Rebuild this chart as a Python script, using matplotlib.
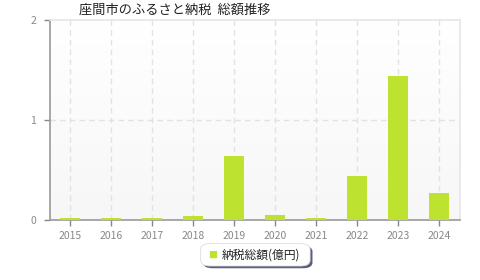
import numpy as np
import matplotlib.pyplot as plt
from matplotlib.patches import FancyBboxPatch

plt.rcParams['font.family'] = ['Noto Sans CJK JP', 'DejaVu Sans']

years = ['2015', '2016', '2017', '2018', '2019', '2020', '2021', '2022', '2023', '2024']
values = [0.02, 0.02, 0.02, 0.04, 0.64, 0.05, 0.02, 0.44, 1.44, 0.27]
title = '座間市のふるさと納税  総額推移'
series_name = '納税総額(億円)'
bar_color = '#bde22f'

fig = plt.figure(figsize=(4.8, 2.8), dpi=100)
ax = fig.add_axes([0.104, 0.214, 0.854, 0.715])

x = np.arange(len(years))
ax.set_xlim(-0.5, len(years) - 0.5)
ax.set_ylim(0, 2)

# soft gradient background
grad = np.linspace(0, 1, 100).reshape(-1, 1)
ax.imshow(grad, extent=[-0.5, len(years) - 0.5, 0, 2], aspect='auto',
          cmap=plt.matplotlib.colors.LinearSegmentedColormap.from_list('bg', ['#ffffff', '#f7f7f7']),
          origin='upper', zorder=0)

ax.bar(x, values, width=0.49, color=bar_color, zorder=3)

ax.set_xticks(x)
ax.set_xticklabels(years)
ax.set_yticks([0, 1, 2])
ax.set_yticklabels(['0', '1', '2'])
ax.tick_params(colors='#888888', labelsize=7.5, length=4, width=1)
ax.tick_params(axis='y', pad=6)
ax.tick_params(axis='x', pad=4)

for xi in x:
    ax.axvline(xi, color='#e2e2e2', linestyle=(0, (4, 3)), linewidth=1, zorder=1)
ax.axhline(1, color='#e2e2e2', linestyle=(0, (4, 3)), linewidth=1, zorder=1)

ax.spines['left'].set_color('#999999')
ax.spines['bottom'].set_color('#999999')
ax.spines['top'].set_color('#e6e6e6')
ax.spines['right'].set_color('#e6e6e6')
for s in ax.spines.values():
    s.set_linewidth(1.2)

fig.text(0.365, 0.962, title, ha='center', va='center', fontsize=9.5, color='#222222')

# legend box with shadow
shadow = FancyBboxPatch((0.423, 0.042), 0.228, 0.08, boxstyle='round,pad=0,rounding_size=0.02',
                        transform=fig.transFigure, facecolor='#5a5f78', edgecolor='none')
box = FancyBboxPatch((0.418, 0.05), 0.228, 0.08, boxstyle='round,pad=0,rounding_size=0.02',
                     transform=fig.transFigure, facecolor='white', edgecolor='#dddddd', linewidth=0.6)
fig.patches.extend([shadow, box])
fig.text(0.442, 0.09, '■', color=bar_color, fontsize=6.5, ha='center', va='center')
fig.text(0.462, 0.09, series_name, color='#222222', fontsize=8.5, ha='left', va='center')

fig.savefig('out.png', dpi=100)
